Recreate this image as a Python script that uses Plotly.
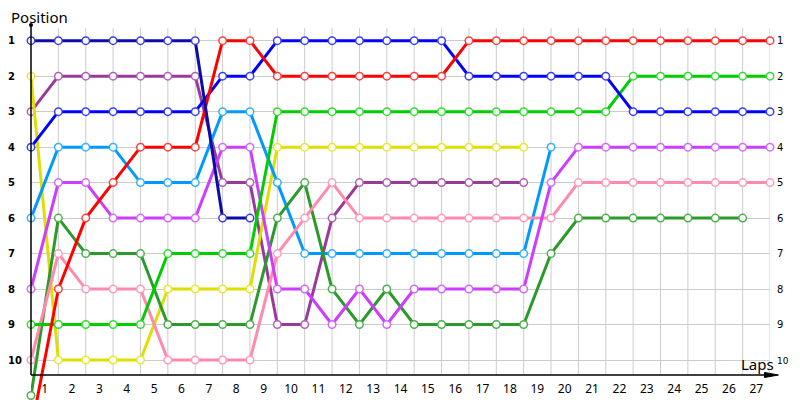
import plotly.graph_objects as go

# ---------------- data ----------------
laps = list(range(28))
lap_labels = [str(k) for k in range(1, 28)]
positions = list(range(1, 11))

navy = [1, 1, 1, 1, 1, 1, 1, 6, 6]
purple = [3, 2, 2, 2, 2, 2, 2, 5, 5, 9, 9, 6, 5, 5, 5, 5, 5, 5, 5]
yellow = [2, 10, 10, 10, 10, 8, 8, 8, 8, 4, 4, 4, 4, 4, 4, 4, 4, 4, 4]
lightblue = [6, 4, 4, 4, 5, 5, 5, 3, 3, 5, 7, 7, 7, 7, 7, 7, 7, 7, 7, 4]
darkgreen = [11, 6, 7, 7, 7, 9, 9, 9, 9, 6, 5, 8, 9, 8, 9, 9, 9, 9, 9, 7, 6, 6, 6, 6, 6, 6, 6]
pink = [10, 7, 8, 8, 8, 10, 10, 10, 10, 7, 6, 5, 6, 6, 6, 6, 6, 6, 6, 6, 5, 5, 5, 5, 5, 5, 5, 5]
violet = [8, 5, 5, 6, 6, 6, 6, 4, 4, 8, 8, 9, 8, 9, 8, 8, 8, 8, 8, 5, 4, 4, 4, 4, 4, 4, 4, 4]
green = [9, 9, 9, 9, 9, 7, 7, 7, 7, 3, 3, 3, 3, 3, 3, 3, 3, 3, 3, 3, 3, 3, 2, 2, 2, 2, 2, 2]
blue = [4, 3, 3, 3, 3, 3, 3, 2, 2, 1, 1, 1, 1, 1, 1, 1, 2, 2, 2, 2, 2, 2, 3, 3, 3, 3, 3, 3]
red = [12, 8, 6, 5, 4, 4, 4, 1, 1, 2, 2, 2, 2, 2, 2, 2, 1, 1, 1, 1, 1, 1, 1, 1, 1, 1, 1, 1]

series = [
    ("purple", purple, "#993a9b", "#b060b8"),
    ("yellow", yellow, "#dede00", "#e8e830"),
    ("lightblue", lightblue, "#0099ff", "#33b0ff"),
    ("darkgreen", darkgreen, "#2a9a2a", "#4cb04c"),
    ("pink", pink, "#ff8aae", "#ff9cbc"),
    ("violet", violet, "#cc3dff", "#d468ff"),
    ("green", green, "#00cc00", "#33dd33"),
    ("blue", blue, "#0000ff", "#3c3cff"),
    ("red", red, "#ff0000", "#ff4040"),
    ("navy", navy, "#0c0ca8", "#4040d8"),
]

# ---------------- geometry (page pixels) ----------------
OFF = 8                      # default body margin of the html page
W, H = 800, 400
L, R, T, B = 31, 29.5, 25, 0
PW, PH = W - L - R, H - T - B
Y_TOP, Y_BOT = 0.558, 11.127
AXIS_PX = 375  # pixel row of the x-axis line


def px_x(p):
    return (p - L) / PW


def px_y(p):
    return (H - p) / PH


axis_paper_y = px_y(AXIS_PX)
axis_data_y = Y_TOP + (AXIS_PX - T) / 35.5

fig = go.Figure()
for i, (name, vals, col, mcol) in enumerate(series):
    fig.add_trace(go.Scatter(
        x=laps[:len(vals)], y=vals, mode="lines+markers", name=name,
        line=dict(color=col, width=3),
        marker=dict(symbol="circle", size=7.5, color="white",
                    line=dict(color=mcol, width=1.5)),
        cliponaxis=False, showlegend=False, hoverinfo="skip",
        yaxis="y2" if i == len(series) - 1 else "y",
    ))

shapes = []
for k in laps[1:]:
    shapes.append(dict(type="line", xref="x", yref="y", x0=k, x1=k,
                       y0=0.65, y1=axis_data_y,
                       line=dict(color="#cccccc", width=1), layer="below"))
shapes.append(dict(type="line", xref="paper", yref="paper", x0=0, x1=0,
                   y0=axis_paper_y, y1=1, line=dict(color="black", width=1.5)))
shapes.append(dict(type="circle", xref="paper", yref="paper",
                   x0=-2 / PW, x1=2 / PW, y0=1 - 2 / PH, y1=1 + 2 / PH,
                   fillcolor="black", line=dict(color="black", width=0)))
shapes.append(dict(type="line", xref="paper", yref="paper", x0=0, x1=px_x(768),
                   y0=axis_paper_y, y1=axis_paper_y, line=dict(color="black", width=1.5)))
xb, xt = px_x(765), px_x(779)
dy = 2.5 / PH
shapes.append(dict(type="path", xref="paper", yref="paper",
                   path=f"M {xb},{axis_paper_y + dy} L {xt},{axis_paper_y} L {xb},{axis_paper_y - dy} Z",
                   fillcolor="black", line=dict(color="black", width=1)))

font_fam = "Noto Sans, Liberation Sans, sans-serif"
left_text = [str(p) + ("\u2007" if p < 10 else "") for p in positions]
right_text = [str(p) if p < 10 else "<span style='font-size:9px'>10</span>" for p in positions]

fig.update_layout(
    width=W - OFF, height=H - OFF,
    margin=dict(l=L - OFF, r=R, t=T - OFF, b=B, pad=0),
    template="none",
    paper_bgcolor="white", plot_bgcolor="white",
    font=dict(family=font_fam, color="black"),
    showlegend=False,
    shapes=shapes,
    xaxis=dict(range=[0, 27], anchor="free", position=axis_paper_y,
               tickmode="array", tickvals=[k - 0.5 for k in range(1, 28)], ticktext=lap_labels,
               ticks="outside", ticklen=3, tickcolor="rgba(0,0,0,0)",
               showgrid=False, zeroline=False, showline=False,
               tickfont=dict(size=12, family=font_fam, color="black")),
    yaxis=dict(range=[Y_BOT, Y_TOP], tickmode="array", tickvals=positions, ticktext=left_text,
               ticks="outside", ticklen=6, tickcolor="rgba(0,0,0,0)",
               showgrid=True, gridcolor="#cccccc", gridwidth=1,
               zeroline=False, showline=False,
               tickfont=dict(size=10, family="DejaVu Sans", color="black", weight="bold")),
    yaxis2=dict(range=[Y_BOT, Y_TOP], overlaying="y", side="right", anchor="x",
                tickmode="array", tickvals=positions, ticktext=right_text,
                ticks="outside", ticklen=4, tickcolor="rgba(0,0,0,0)",
                showgrid=False, zeroline=False, showline=False,
                tickfont=dict(size=10, family="DejaVu Sans", color="black")),
    annotations=[
        dict(text="Position", xref="paper", yref="paper", x=px_x(9), y=px_y(17),
             xanchor="left", yanchor="middle", showarrow=False,
             font=dict(size=15, family=font_fam, color="black")),
        dict(text="Laps", xref="paper", yref="paper", x=px_x(758), y=px_y(364),
             xanchor="center", yanchor="middle", showarrow=False,
             font=dict(size=15, family=font_fam, color="black")),
    ],
)

fig.write_html("out.html")
